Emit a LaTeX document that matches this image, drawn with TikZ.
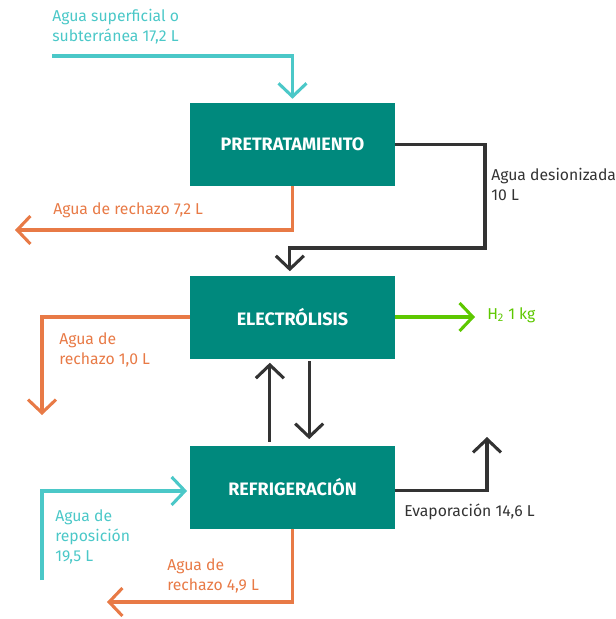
\documentclass[tikz,border=0pt]{standalone}
\usepackage{fontspec}
\setmainfont{Fira Sans}
\usetikzlibrary{arrows.meta}

\definecolor{boxteal}{RGB}{0,137,125}
\definecolor{wcyan}{RGB}{75,200,200}
\definecolor{wrange}{RGB}{232,122,70}
\definecolor{hgreen}{RGB}{93,200,0}
\definecolor{wdark}{RGB}{51,51,51}

\begin{document}
\begin{tikzpicture}[x=0.75pt, y=-0.75pt,
            stage/.style={fill=boxteal, text=white, inner sep=0,
                minimum width=153.75pt, minimum height=62.25pt,
                font=\bfseries\fontsize{13.5}{15}\selectfont},
            flow/.style={line width=2.3pt, -{Straight Barb[length=10pt, width=21pt]}},
            lbl/.style={anchor=north west, inner sep=0, align=left,
                font=\fontsize{11.8}{15}\selectfont}]
        \useasboundingbox (0,0) rectangle (616,619);

        % process stages
        \node (pre) [stage] at (292.5,144.5) {PRETRATAMIENTO};
        \node (ele) [stage] at (292.5,317)   {ELECTRÓLISIS};
        \node (ref) [stage] at (292.5,487.5) {REFRIGERACIÓN};

        % free ends
        \coordinate (src)  at (52,56);
        \coordinate (rej1) at (15,230);
        \coordinate (h2)   at (475,317);
        \coordinate (rej2) at (42,415);
        \coordinate (mk)   at (42,580);
        \coordinate (rej3) at (107,602);
        \coordinate (evap) at (487,437);

        \draw [flow, wcyan, shorten >=3pt] (src) -| (pre.north);
        \draw [flow, wdark, shorten >=3pt] (pre.east) -| (485,248) -| ([xshift=-2pt]ele.north);
        \draw [flow, wrange] (pre.south) |- (rej1);
        \draw [flow, hgreen] (ele.east) -- (h2);
        \draw [flow, wrange] (ele.west) -| (rej2);
        \draw [flow, wdark, shorten <=3pt, shorten >=3pt] ([xshift=-17pt]ref.north) -- ([xshift=-17pt]ele.south);
        \draw [flow, wdark, shorten <=2pt, shorten >=5pt] ([xshift=12.5pt]ele.south) -- ([xshift=12.5pt]ref.north);
        \draw [flow, wcyan, shorten >=2pt] (mk) |- ([yshift=-2.6pt]ref.west);
        \draw [flow, wrange] (ref.south) |- (rej3);
        \draw [flow, wdark] ([yshift=-2pt]ref.east) -| (evap);

        % labels
        \node (l1) [lbl, text=wcyan]  at (52,9)    {Agua superficial o\\subterránea 17,2 L};
        \node (l2) [lbl, text=wdark]  at (491,168) {Agua desionizada\\10 L};
        \node (l3) [lbl, text=wrange] at (53,202)  {Agua de rechazo 7,2 L};
        \node (l4) [lbl, text=hgreen] at (487,307) {H\textsubscript{2} 1 kg};
        \node (l5) [lbl, text=wrange] at (59,332)  {Agua de\\rechazo 1,0 L};
        \node (l6) [lbl, text=wcyan]  at (55,509)  {Agua de\\reposición\\19,5 L};
        \node (l7) [lbl, text=wrange] at (167,558) {Agua de\\rechazo 4,9 L};
        \node (l8) [lbl, text=wdark]  at (404,504) {Evaporación 14,6 L};
    \end{tikzpicture}
\end{document}
